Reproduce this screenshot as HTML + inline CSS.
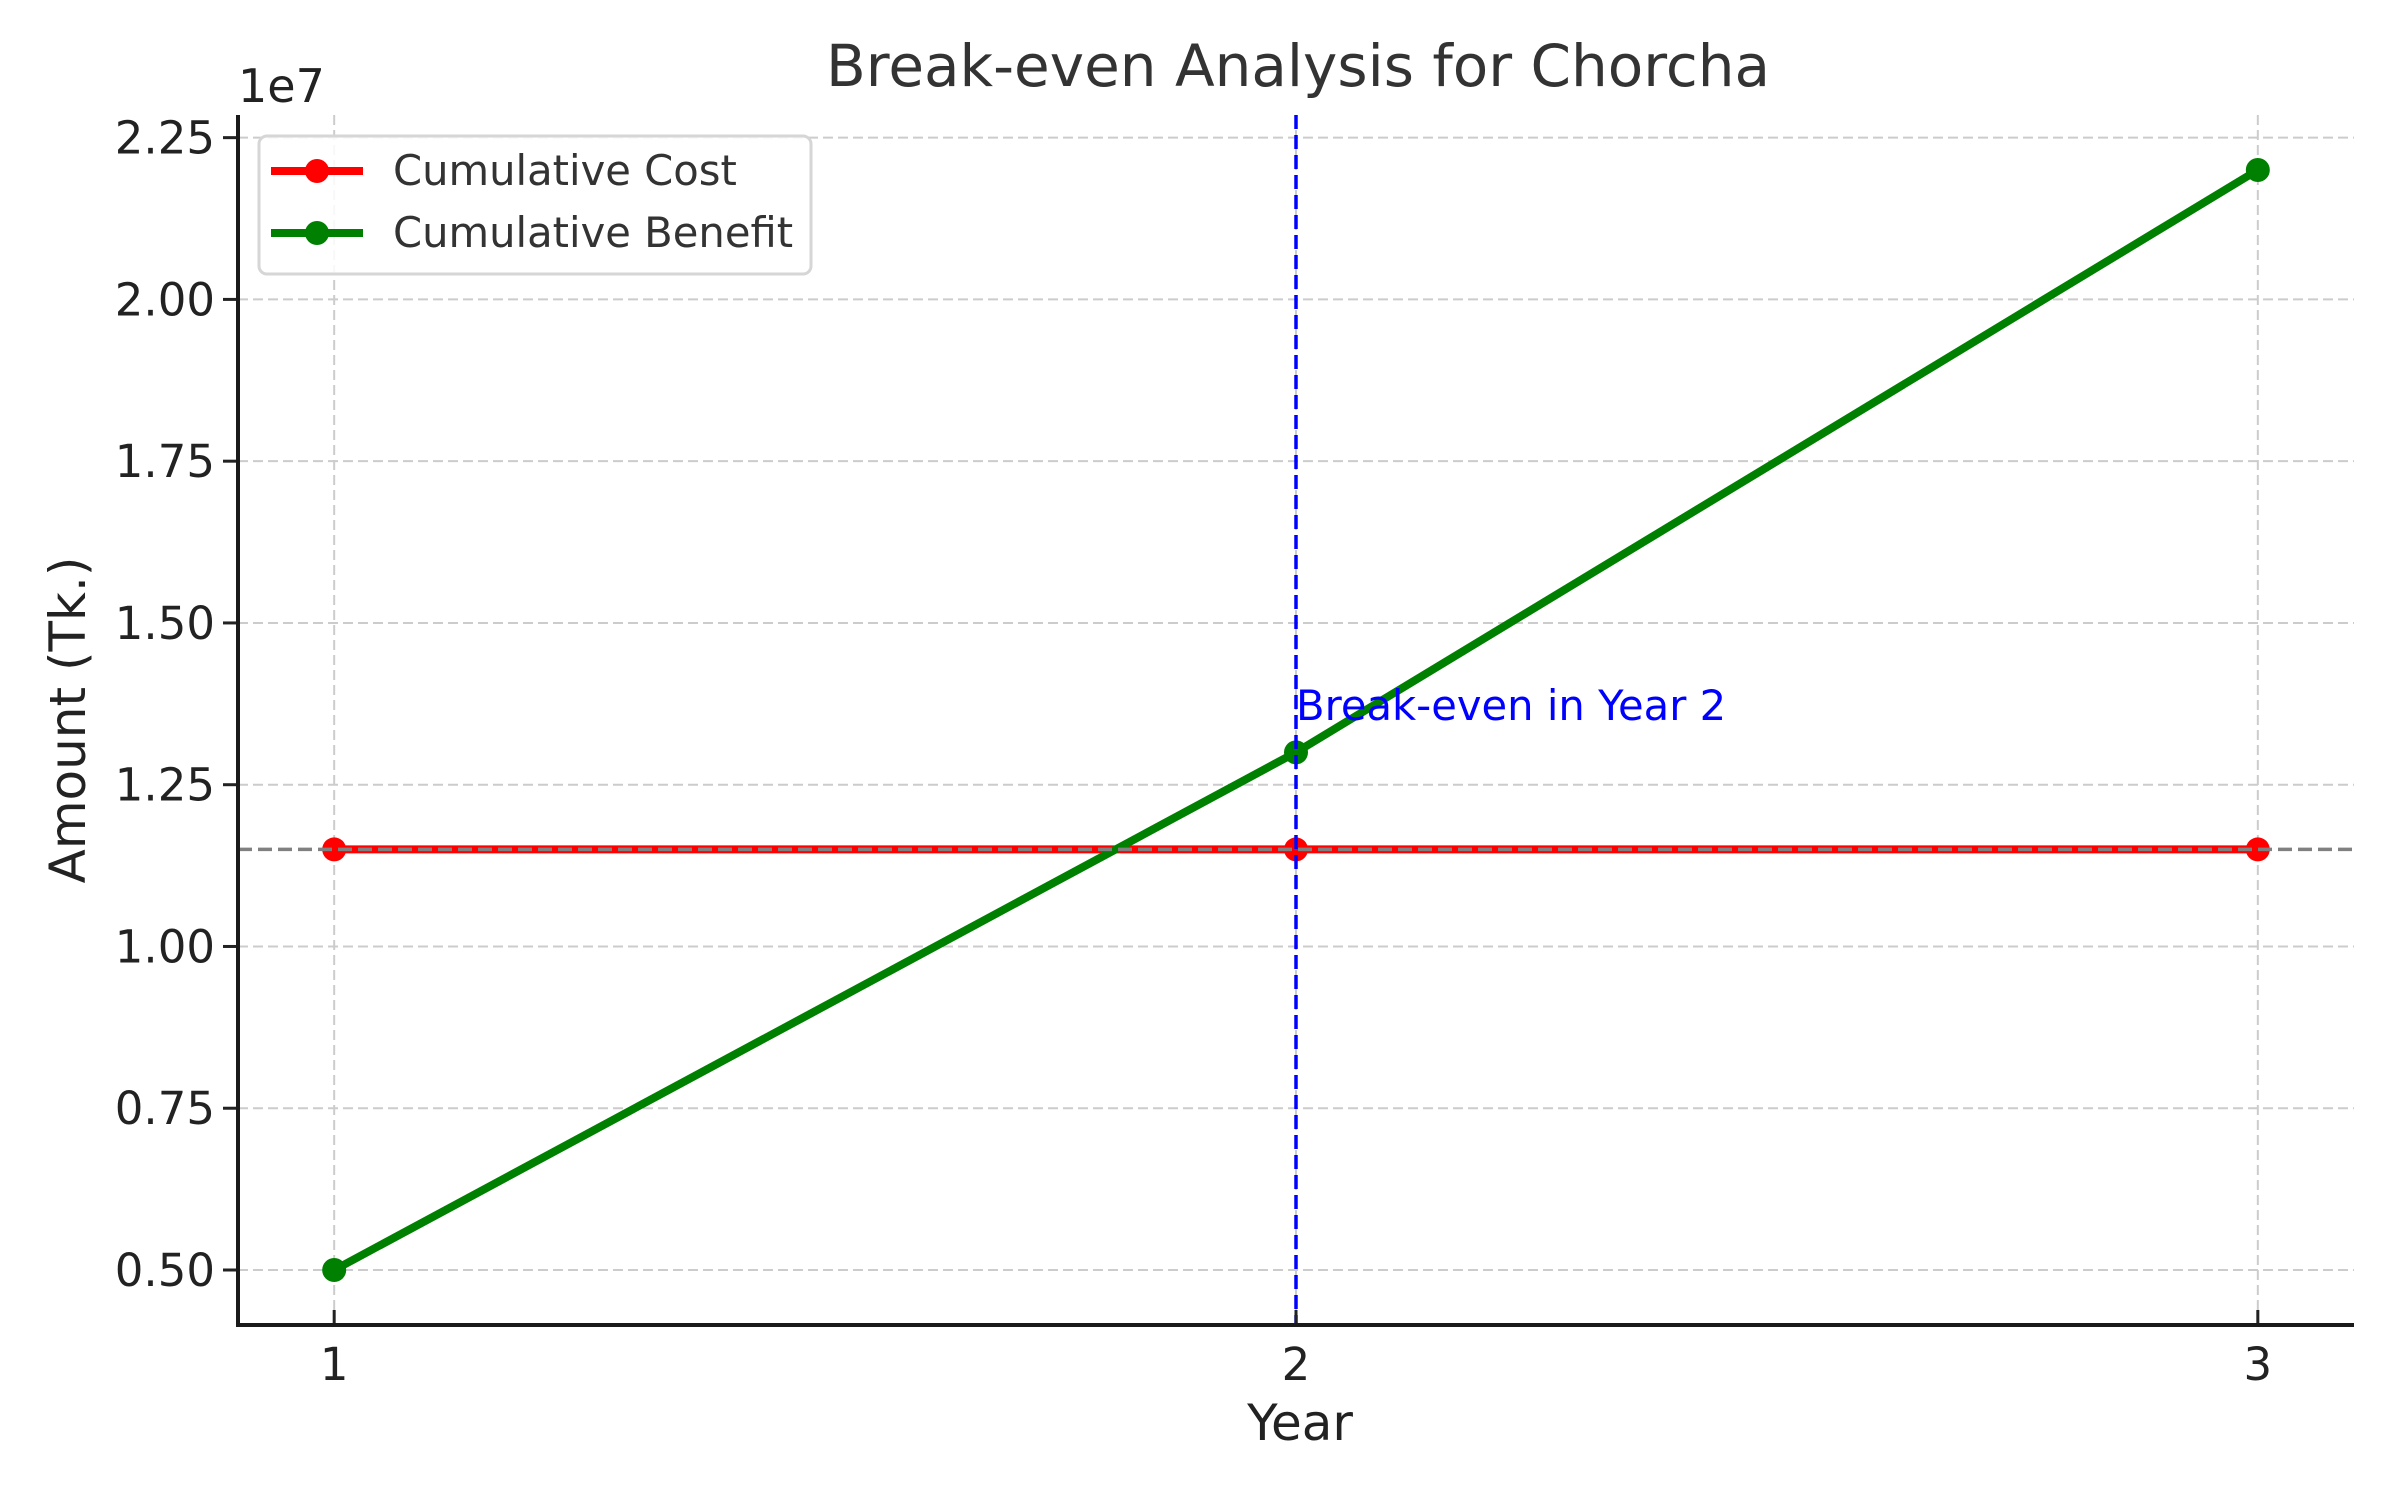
<!DOCTYPE html>
<html><head><meta charset="utf-8"><style>
html,body{margin:0;padding:0;background:#fff;}
svg{display:block;font-family:"DejaVu Sans","Liberation Sans",sans-serif;}
</style></head><body>
<svg id="chart" width="2400" height="1500" viewBox="0 0 2400 1500" xmlns="http://www.w3.org/2000/svg">
<rect width="2400" height="1500" fill="#fff"/>
<g id="grid"></g>
<g id="refs"></g>
<g id="series"></g>
<g id="axes"></g>
<text x="1298" y="86" font-size="58" fill="#333" text-anchor="middle">Break-even Analysis for Chorcha</text>
<text x="238" y="102" font-size="46" fill="#222">1e7</text>
<text x="1300" y="1440" font-size="50" fill="#222" text-anchor="middle">Year</text>
<text transform="translate(85,720) rotate(-90)" font-size="50" fill="#222" text-anchor="middle">Amount (Tk.)</text>
<g>
<rect x="259" y="136" width="552" height="138" rx="8" fill="#fff" fill-opacity="0.85" stroke="#d6d6d6" stroke-width="3"/>
<g>
<line x1="271" y1="171" x2="363" y2="171" stroke="#ff0000" stroke-width="8"/>
<circle cx="317" cy="171" r="12" fill="#ff0000"/>
<text x="393" y="185" font-size="41.7" fill="#333">Cumulative Cost</text>
</g>
<g>
<line x1="271" y1="233" x2="363" y2="233" stroke="#008000" stroke-width="8"/>
<circle cx="317" cy="233" r="12" fill="#008000"/>
<text x="393" y="247" font-size="41.7" fill="#333">Cumulative Benefit</text>
</g>
</g>
</svg>
<script>
const years = [1, 2, 3];
const cumulativeCost = [11.5e6, 11.5e6, 11.5e6];
const cumulativeBenefit = [5e6, 13e6, 22e6];
const yTicks = [0.5e7, 0.75e7, 1.0e7, 1.25e7, 1.5e7, 1.75e7, 2.0e7, 2.25e7];
const yTickLabels = ["0.50","0.75","1.00","1.25","1.50","1.75","2.00","2.25"];
const xTicks = [1, 2, 3];
const xTickLabels = ["1","2","3"];
const breakEvenYear = [2];
const breakEvenLevel = [11.5e6];
const annotationY = [13.5e6];

const NS = "http://www.w3.org/2000/svg";
const L = 238, R = 2354, T = 115, B = 1325;
const xMin = 0.9, xMax = 3.1, yMin = 4.15e6, yMax = 22.85e6;
const xs = v => L + (v - xMin) / (xMax - xMin) * (R - L);
const ys = v => B - (v - yMin) / (yMax - yMin) * (B - T);
function mk(tag, attrs, parent) {
  const e = document.createElementNS(NS, tag);
  for (const k in attrs) e.setAttribute(k, attrs[k]);
  parent.appendChild(e);
  return e;
}
const grid = document.getElementById('grid');
const axes = document.getElementById('axes');
const refs = document.getElementById('refs');
const series = document.getElementById('series');

yTicks.forEach((v, i) => {
  const y = ys(v);
  const g = mk('line', {x1: L, x2: R, y1: y, y2: y, stroke: '#cccccc', 'stroke-width': 2, 'stroke-dasharray': '10 5'}, grid);
  
  
  const t = mk('line', {x1: L - 15, x2: L, y1: y, y2: y, stroke: '#222', 'stroke-width': 3}, axes);
  
  
  const lb = mk('text', {x: L - 23, y: y + 16, 'font-size': 45, fill: '#222', 'text-anchor': 'end'}, axes);
  lb.textContent = yTickLabels[i];
  
  
});
xTicks.forEach((v, i) => {
  const x = xs(v);
  const g = mk('line', {x1: x, x2: x, y1: T, y2: B, stroke: '#cccccc', 'stroke-width': 2, 'stroke-dasharray': '10 5'}, grid);
  
  
  const t = mk('line', {x1: x, x2: x, y1: B - 15, y2: B, stroke: '#222', 'stroke-width': 3}, axes);
  
  
  const lb = mk('text', {x: x, y: 1380, 'font-size': 45, fill: '#222', 'text-anchor': 'middle'}, axes);
  lb.textContent = xTickLabels[i];
  
  
});
const sp1 = mk('line', {x1: L, x2: L, y1: T, y2: B + 2, stroke: '#1a1a1a', 'stroke-width': 4}, axes);


const sp2 = mk('line', {x1: L - 2, x2: R, y1: B, y2: B, stroke: '#1a1a1a', 'stroke-width': 4}, axes);



function drawSeries(vals, color, name) {
  const pts = years.map((y, i) => xs(y) + ',' + ys(vals[i])).join(' ');
  const pl = mk('polyline', {points: pts, fill: 'none', stroke: color, 'stroke-width': 8, 'stroke-linejoin': 'round'}, series);
  
  
  years.forEach((y, i) => {
    const c = mk('circle', {cx: xs(y), cy: ys(vals[i]), r: 12, fill: color}, series);
    
    
  });
}
drawSeries(cumulativeCost, '#ff0000', 'cumulative-cost');
drawSeries(cumulativeBenefit, '#008000', 'cumulative-benefit');

const hy = ys(breakEvenLevel[0]);
const hl = mk('line', {x1: L, x2: R, y1: hy, y2: hy, stroke: '#808080', 'stroke-width': 3.5, 'stroke-dasharray': '14 6'}, series);


const vx = xs(breakEvenYear[0]);
const vl = mk('line', {x1: vx, x2: vx, y1: T, y2: B, stroke: '#0000ff', 'stroke-width': 3.5, 'stroke-dasharray': '14 6'}, series);


const an = mk('text', {x: vx, y: ys(annotationY[0]), 'font-size': 41.7, fill: '#0000ff'}, series);
an.textContent = 'Break-even in Year 2';


</script>
</body></html>
